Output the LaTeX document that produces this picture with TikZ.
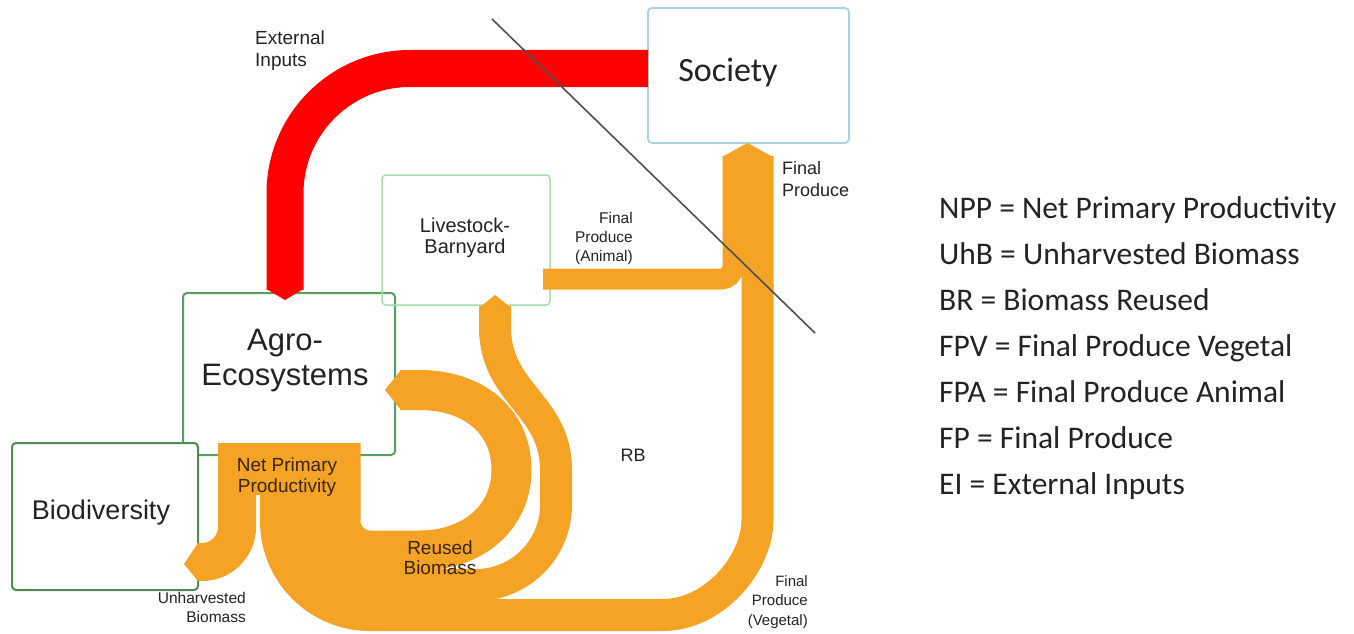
\documentclass[tikz,border=0pt]{standalone}
\usepackage{fontspec}
\setmainfont{Liberation Sans}
\newfontfamily\calfont{Carlito}
\newcommand\myfs[2]{\fontsize{#1pt}{#2pt}\selectfont}
\definecolor{flowor}{RGB}{245,163,37}
\definecolor{eired}{RGB}{255,0,0}
\definecolor{agrogreen}{RGB}{88,158,92}
\definecolor{biogreen}{RGB}{78,140,82}
\definecolor{livegreen}{RGB}{165,220,172}
\definecolor{socblue}{RGB}{168,210,222}
\definecolor{txtgray}{RGB}{35,35,35}
\definecolor{onorange}{RGB}{55,38,20}
\definecolor{diaggray}{RGB}{80,80,80}
\tikzset{
  box/.style={draw, rounded corners=4pt, line width=2pt, inner sep=0pt},
  orflow/.style={draw=flowor, line width=#1},
  lbl/.style={text=txtgray, inner sep=0pt},
}
\begin{document}
\begin{tikzpicture}[x=1pt,y=-1pt]
\fill[white] (0,0) rectangle (1354,634);
\useasboundingbox (0,0) rectangle (1354,634);

% boxes
\node[box, draw=agrogreen, minimum width=212pt, minimum height=162pt] (agro) at (289,374) {};
\node[box, draw=biogreen, fill=white, minimum width=186pt, minimum height=147pt] (bio) at (105,516.5) {};
\node[box, draw=livegreen, line width=1.5pt, minimum width=168pt, minimum height=130pt] (live) at (466,240) {};
\node[box, draw=socblue, line width=1.8pt, minimum width=201pt, minimum height=135pt] (soc) at (748.5,75.5) {};

% external inputs (red)
\coordinate (eiS) at (648,68.5);
\coordinate (eiA) at (285,290);
\draw[eired, line width=37pt, rounded corners=125pt] (eiS) -- (285,68.5) -- (eiA);
\fill[eired] (266.5,289) -- (303.5,289) -- (285,300) -- cycle;

% net primary productivity block
\fill[flowor] (218,443) rectangle (360,495);
% unharvested biomass
\draw[orflow=38pt] (237,443) -- (237,527) .. controls (237,546.3) and (221.3,562) .. (202,562) -- (197,562);
\fill[flowor] (198,543) -- (184,564) -- (198,581) -- cycle;
% final produce vegetal
\draw[orflow=32pt] (276,443) -- (276,521) .. controls (276,572.9) and (318.1,615) .. (370,615) -- (662.5,615) .. controls (715,615) and (757.5,562.5) .. (757.5,520) -- (757.5,156);
% reused biomass to livestock
\draw[orflow=32pt] (306,443) -- (306,521) .. controls (306,556.3) and (334.7,585) .. (370,585) -- (476,585) .. controls (520.2,585) and (556,549.2) .. (556,505) -- (556,470) .. controls (556,405) and (497,395) .. (495,330) -- (495,306);
\fill[flowor] (480,307) -- (495,295) -- (510,307) -- cycle;
% reused biomass to agro-ecosystems
\draw[orflow=40pt] (340.5,443) -- (340.5,521) .. controls (340.5,537.3) and (353.7,550.5) .. (370,550.5) -- (420,550.5) .. controls (472,550.5) and (511.5,518) .. (511.5,470) .. controls (511.5,420) and (472,390) .. (420,390) -- (400,390);
\fill[flowor] (401,370) -- (385,390) -- (401,410) -- cycle;
% final produce animal
\draw[orflow=21pt, rounded corners=12pt] (543,279) -- (733,279) -- (733,156);
% final produce tip
\fill[flowor] (722,157) -- (747.5,143) -- (773,157) -- cycle;

% box texts
\node[lbl, align=center, font=\myfs{31}{35}] (agrot) at (285,361) {Agro-\\Ecosystems};
\node[lbl, font=\myfs{27}{32}] (biot) at (101,513) {Biodiversity};
\node[lbl, align=center, font=\myfs{20}{21}] (livet) at (465,238) {Livestock-\\Barnyard};
\node[lbl, font=\calfont\myfs{34}{40}] (soct) at (728,73) {Society};

% flow labels
\node[lbl, anchor=west, align=left, font=\myfs{19}{22}] (eil) at (255,51) {External\\Inputs};
\node[lbl, anchor=west, align=left, font=\myfs{18}{22}] (fpl) at (782,179) {Final\\Produce};
\node[lbl, anchor=east, align=right, font=\myfs{15.5}{19}] (fpal) at (633,238) {Final\\Produce\\(Animal)};
\node[lbl, text=onorange, align=center, font=\myfs{19}{21}] (nppl) at (287,477) {Net Primary\\Productivity};
\node[lbl, text=onorange, align=center, font=\myfs{19}{20}] (rbl) at (440,558) {Reused\\Biomass};
\node[lbl, anchor=east, align=right, font=\myfs{15.5}{19}] (uhbl) at (246,607) {Unharvested\\Biomass};
\node[lbl, font=\myfs{18}{20}] (rbt) at (633,455) {RB};
\node[lbl, anchor=east, align=right, font=\myfs{15}{19.5}] (fpvl) at (808,602) {Final\\Produce\\(Vegetal)};

% legend
\node[lbl, anchor=west, align=left, font=\calfont\myfs{31.5}{46}] (legend) at (939,348.5)
 {NPP = Net Primary Productivity\\UhB = Unharvested Biomass\\BR = Biomass Reused\\FPV = Final Produce Vegetal\\FPA = Final Produce Animal\\FP = Final Produce\\EI = External Inputs};

% boundary line
\coordinate (d1) at (492,19);
\coordinate (d2) at (815,333);
\draw[diaggray, line width=1.6pt] (d1) -- (d2);
\end{tikzpicture}
\end{document}
